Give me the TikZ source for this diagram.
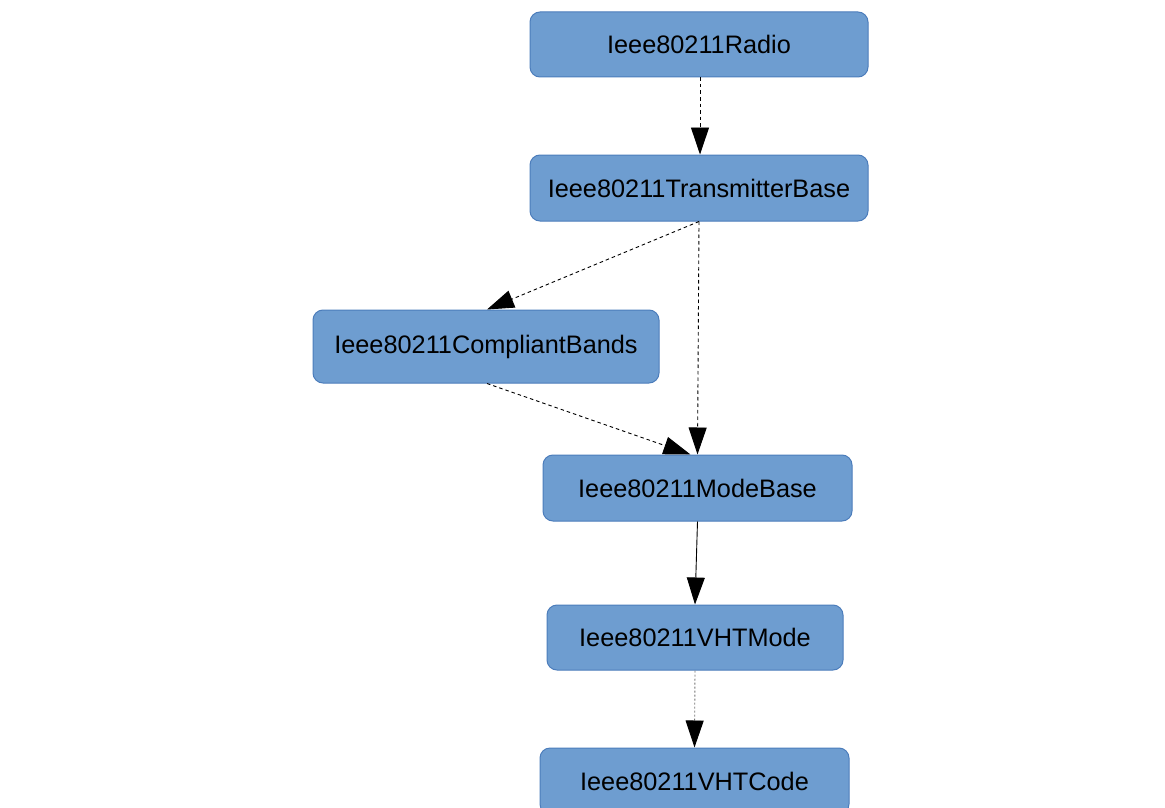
\documentclass[tikz,border=0pt]{standalone}
\usepackage{fontspec}
\setmainfont{Liberation Sans}
\usetikzlibrary{arrows.meta}
\definecolor{boxfill}{HTML}{6E9DD0}
\definecolor{boxline}{HTML}{4C7DBB}
\begin{document}
\begin{tikzpicture}[x=1pt,y=-1pt,
  cls/.style={draw=boxline, fill=boxfill, line width=1pt, rounded corners=10pt,
    inner sep=0pt, font=\fontsize{25.3}{30}\selectfont, text=black},
  link/.style={line width=0.9pt, -{Triangle[length=27pt,width=18pt,color=black,fill=black]}},
  dashlink/.style={link, dash pattern=on 3.5pt off 3pt},
  dotlink/.style={link, draw=black!55, dash pattern=on 2pt off 2pt}]
\useasboundingbox (0,0) rectangle (1165,808);
\fill[white] (0,0) rectangle (1165,808);

\node[cls, minimum width=338pt, minimum height=65pt] (radio) at (699,44.5) {Ieee80211Radio};
\node[cls, minimum width=338pt, minimum height=66pt] (tx) at (699,188) {Ieee80211TransmitterBase};
\node[cls, minimum width=346pt, minimum height=73pt] (bands) at (486,346.5) {\raisebox{-2pt}{Ieee80211CompliantBands}};
\node[cls, minimum width=309pt, minimum height=66pt] (mode) at (697.5,488) {Ieee80211ModeBase};
\node[cls, minimum width=296pt, minimum height=65pt] (vht) at (695,637.5) {Ieee80211VHTMode};
\node[cls, minimum width=309pt, minimum height=66pt] (code) at (694.5,781) {Ieee80211VHTCode};

\draw[dashlink] ([xshift=1pt]radio.south) -- ([xshift=1pt]tx.north);
\draw[dashlink] (tx.south) -- ([xshift=1pt]bands.north);
\draw[dashlink] (tx.south) -- (mode.north);
\draw[dashlink] ([xshift=1pt]bands.south) -- ([xshift=-7pt]mode.north);
\draw[link] (mode.south) -- (vht.north);
\draw[dotlink] (vht.south) -- (code.north);
\end{tikzpicture}
\end{document}
